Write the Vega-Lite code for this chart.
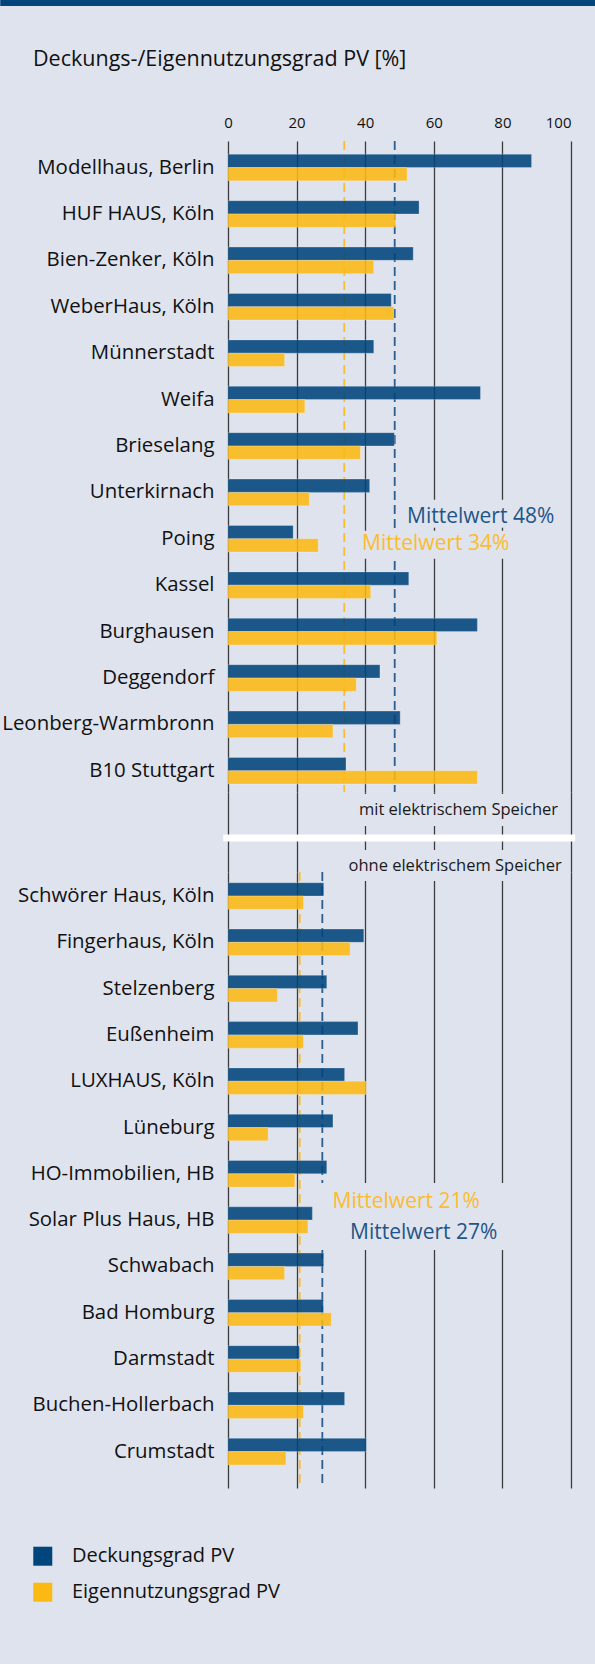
{
  "$schema": "https://vega.github.io/schema/vega-lite/v6.json",
  "autosize": {"type": "pad"},
  "padding": {"left": 0, "top": 0, "right": 0, "bottom": 44},
  "background": "#dfe3ee",
  "datasets": {
    "balken": [
      {"gruppe": "mit", "name": "Modellhaus, Berlin", "typ": "Deckungsgrad PV", "wert": 88.5},
      {"gruppe": "mit", "name": "Modellhaus, Berlin", "typ": "Eigennutzungsgrad PV", "wert": 52.2},
      {"gruppe": "mit", "name": "HUF HAUS, Köln", "typ": "Deckungsgrad PV", "wert": 55.7},
      {"gruppe": "mit", "name": "HUF HAUS, Köln", "typ": "Eigennutzungsgrad PV", "wert": 48.9},
      {"gruppe": "mit", "name": "Bien-Zenker, Köln", "typ": "Deckungsgrad PV", "wert": 54.0},
      {"gruppe": "mit", "name": "Bien-Zenker, Köln", "typ": "Eigennutzungsgrad PV", "wert": 42.5},
      {"gruppe": "mit", "name": "WeberHaus, Köln", "typ": "Deckungsgrad PV", "wert": 47.6},
      {"gruppe": "mit", "name": "WeberHaus, Köln", "typ": "Eigennutzungsgrad PV", "wert": 48.4},
      {"gruppe": "mit", "name": "Münnerstadt", "typ": "Deckungsgrad PV", "wert": 42.5},
      {"gruppe": "mit", "name": "Münnerstadt", "typ": "Eigennutzungsgrad PV", "wert": 16.5},
      {"gruppe": "mit", "name": "Weifa", "typ": "Deckungsgrad PV", "wert": 73.6},
      {"gruppe": "mit", "name": "Weifa", "typ": "Eigennutzungsgrad PV", "wert": 22.4},
      {"gruppe": "mit", "name": "Brieselang", "typ": "Deckungsgrad PV", "wert": 48.5},
      {"gruppe": "mit", "name": "Brieselang", "typ": "Eigennutzungsgrad PV", "wert": 38.6},
      {"gruppe": "mit", "name": "Unterkirnach", "typ": "Deckungsgrad PV", "wert": 41.3},
      {"gruppe": "mit", "name": "Unterkirnach", "typ": "Eigennutzungsgrad PV", "wert": 23.7},
      {"gruppe": "mit", "name": "Poing", "typ": "Deckungsgrad PV", "wert": 19.0},
      {"gruppe": "mit", "name": "Poing", "typ": "Eigennutzungsgrad PV", "wert": 26.3},
      {"gruppe": "mit", "name": "Kassel", "typ": "Deckungsgrad PV", "wert": 52.7},
      {"gruppe": "mit", "name": "Kassel", "typ": "Eigennutzungsgrad PV", "wert": 41.6},
      {"gruppe": "mit", "name": "Burghausen", "typ": "Deckungsgrad PV", "wert": 72.7},
      {"gruppe": "mit", "name": "Burghausen", "typ": "Eigennutzungsgrad PV", "wert": 60.9},
      {"gruppe": "mit", "name": "Deggendorf", "typ": "Deckungsgrad PV", "wert": 44.3},
      {"gruppe": "mit", "name": "Deggendorf", "typ": "Eigennutzungsgrad PV", "wert": 37.4},
      {"gruppe": "mit", "name": "Leonberg-Warmbronn", "typ": "Deckungsgrad PV", "wert": 50.2},
      {"gruppe": "mit", "name": "Leonberg-Warmbronn", "typ": "Eigennutzungsgrad PV", "wert": 30.6},
      {"gruppe": "mit", "name": "B10 Stuttgart", "typ": "Deckungsgrad PV", "wert": 34.4},
      {"gruppe": "mit", "name": "B10 Stuttgart", "typ": "Eigennutzungsgrad PV", "wert": 72.7},
      {"gruppe": "ohne", "name": "Schwörer Haus, Köln", "typ": "Deckungsgrad PV", "wert": 27.9},
      {"gruppe": "ohne", "name": "Schwörer Haus, Köln", "typ": "Eigennutzungsgrad PV", "wert": 22.0},
      {"gruppe": "ohne", "name": "Fingerhaus, Köln", "typ": "Deckungsgrad PV", "wert": 39.6},
      {"gruppe": "ohne", "name": "Fingerhaus, Köln", "typ": "Eigennutzungsgrad PV", "wert": 35.6},
      {"gruppe": "ohne", "name": "Stelzenberg", "typ": "Deckungsgrad PV", "wert": 28.8},
      {"gruppe": "ohne", "name": "Stelzenberg", "typ": "Eigennutzungsgrad PV", "wert": 14.4},
      {"gruppe": "ohne", "name": "Eußenheim", "typ": "Deckungsgrad PV", "wert": 37.9},
      {"gruppe": "ohne", "name": "Eußenheim", "typ": "Eigennutzungsgrad PV", "wert": 22.0},
      {"gruppe": "ohne", "name": "LUXHAUS, Köln", "typ": "Deckungsgrad PV", "wert": 34.0},
      {"gruppe": "ohne", "name": "LUXHAUS, Köln", "typ": "Eigennutzungsgrad PV", "wert": 40.3},
      {"gruppe": "ohne", "name": "Lüneburg", "typ": "Deckungsgrad PV", "wert": 30.6},
      {"gruppe": "ohne", "name": "Lüneburg", "typ": "Eigennutzungsgrad PV", "wert": 11.7},
      {"gruppe": "ohne", "name": "HO-Immobilien, HB", "typ": "Deckungsgrad PV", "wert": 28.8},
      {"gruppe": "ohne", "name": "HO-Immobilien, HB", "typ": "Eigennutzungsgrad PV", "wert": 19.5},
      {"gruppe": "ohne", "name": "Solar Plus Haus, HB", "typ": "Deckungsgrad PV", "wert": 24.6},
      {"gruppe": "ohne", "name": "Solar Plus Haus, HB", "typ": "Eigennutzungsgrad PV", "wert": 23.3},
      {"gruppe": "ohne", "name": "Schwabach", "typ": "Deckungsgrad PV", "wert": 27.9},
      {"gruppe": "ohne", "name": "Schwabach", "typ": "Eigennutzungsgrad PV", "wert": 16.5},
      {"gruppe": "ohne", "name": "Bad Homburg", "typ": "Deckungsgrad PV", "wert": 27.8},
      {"gruppe": "ohne", "name": "Bad Homburg", "typ": "Eigennutzungsgrad PV", "wert": 30.1},
      {"gruppe": "ohne", "name": "Darmstadt", "typ": "Deckungsgrad PV", "wert": 20.8},
      {"gruppe": "ohne", "name": "Darmstadt", "typ": "Eigennutzungsgrad PV", "wert": 21.2},
      {"gruppe": "ohne", "name": "Buchen-Hollerbach", "typ": "Deckungsgrad PV", "wert": 34.0},
      {"gruppe": "ohne", "name": "Buchen-Hollerbach", "typ": "Eigennutzungsgrad PV", "wert": 22.0},
      {"gruppe": "ohne", "name": "Crumstadt", "typ": "Deckungsgrad PV", "wert": 40.3},
      {"gruppe": "ohne", "name": "Crumstadt", "typ": "Eigennutzungsgrad PV", "wert": 16.9}
    ],
    "mittel": [
      {"gruppe": "mit", "typ": "Deckungsgrad PV", "wert": 48.6},
      {"gruppe": "mit", "typ": "Eigennutzungsgrad PV", "wert": 33.9},
      {"gruppe": "ohne", "typ": "Deckungsgrad PV", "wert": 27.5},
      {"gruppe": "ohne", "typ": "Eigennutzungsgrad PV", "wert": 20.9}
    ],
    "legende": [
      {"typ": "Deckungsgrad PV"},
      {"typ": "Eigennutzungsgrad PV"}
    ]
  },
  "spacing": 135,
  "bounds": "flush",
  "vconcat": [
    {
      "width": 343,
      "height": 6,
      "data": {"values": [{}]},
      "mark": {"type": "rect", "color": "#00457c", "clip": false},
      "encoding": {
        "x": {"datum": -66.4, "type": "quantitative", "scale": {"domain": [0, 100], "nice": false, "zero": false}, "axis": null},
        "x2": {"datum": 110}
      }
    },
    {
      "spacing": 0,
      "bounds": "flush",
      "vconcat": [
        {
          "width": 343,
          "height": 651,
          "title": {"text": "Deckungs-/Eigennutzungsgrad PV [%]", "anchor": "start", "frame": "group", "dx": -195, "offset": 45, "fontSize": 21.5, "fontWeight": "normal", "color": "#111111", "font": "Open Sans"},
          "layer": [
            {
              "data": {"name": "mittel"},
              "transform": [{"filter": "datum.gruppe === 'mit'"}],
              "mark": {"type": "rule", "strokeDash": [9, 5], "strokeWidth": 1.8},
              "encoding": {
                "x": {"field": "wert", "type": "quantitative", "scale": {"domain": [0, 100], "nice": false, "zero": true},
                  "axis": {"orient": "top", "values": [0, 20, 40, 60, 80, 100], "grid": true, "ticks": false, "domain": false, "title": null, "labelFontSize": 15, "labelPadding": 11, "labelFlush": false, "labelColor": "#111111",
                    "labelAlign": {"condition": {"test": "datum.value === 100", "value": "right"}, "value": "center"}}},
                "stroke": {"field": "typ", "type": "nominal", "scale": {"domain": ["Deckungsgrad PV", "Eigennutzungsgrad PV"], "range": ["#2a5d90", "#fbbd30"]}, "legend": null}
              }
            },
            {
              "data": {"values": [{}]},
              "mark": {"type": "rule", "color": "#dfe3ee", "strokeWidth": 28},
              "encoding": {
                "x": {"datum": 51.6, "type": "quantitative"},
                "x2": {"datum": 97.4},
                "y": {"datum": "Poing", "type": "nominal", "bandPosition": -0.44}
              }
            },
            {
              "data": {"values": [{}]},
              "mark": {"type": "rule", "color": "#dfe3ee", "strokeWidth": 28},
              "encoding": {
                "x": {"datum": 38.0, "type": "quantitative"},
                "x2": {"datum": 85.1},
                "y": {"datum": "Poing", "type": "nominal", "bandPosition": 0.726}
              }
            },
            {
              "data": {"name": "balken"},
              "transform": [{"filter": "datum.gruppe === 'mit'"}],
              "mark": {"type": "bar", "opacity": 0.88, "stroke": "#ffffff", "strokeOpacity": 0.25, "strokeWidth": 1},
              "encoding": {
                "y": {"field": "name", "type": "nominal",
                  "scale": {"domain": ["Modellhaus, Berlin", "HUF HAUS, Köln", "Bien-Zenker, Köln", "WeberHaus, Köln", "Münnerstadt", "Weifa", "Brieselang", "Unterkirnach", "Poing", "Kassel", "Burghausen", "Deggendorf", "Leonberg-Warmbronn", "B10 Stuttgart"], "paddingInner": 0.4267, "paddingOuter": 0.228, "align": 0.627, "round": false},
                  "axis": {"title": null, "ticks": false, "domain": false, "labelFontSize": 20.4, "labelPadding": 14, "labelLimit": 400, "labelColor": "#111111"}},
                "yOffset": {"field": "typ", "type": "nominal", "scale": {"domain": ["Deckungsgrad PV", "Eigennutzungsgrad PV"], "paddingInner": 0, "paddingOuter": 0}},
                "x": {"field": "wert", "type": "quantitative"},
                "color": {"field": "typ", "type": "nominal", "scale": {"domain": ["Deckungsgrad PV", "Eigennutzungsgrad PV"], "range": ["#00457c", "#fdb913"]}, "legend": null}
              }
            },
            {
              "data": {"values": [{}]},
              "mark": {"type": "text", "text": "Mittelwert 48%", "align": "left", "baseline": "middle", "fontSize": 21, "color": "#1f5587"},
              "encoding": {
                "x": {"datum": 52.2, "type": "quantitative"},
                "y": {"datum": "Poing", "type": "nominal", "bandPosition": -0.327}
              }
            },
            {
              "data": {"values": [{}]},
              "mark": {"type": "text", "text": "Mittelwert 34%", "align": "left", "baseline": "middle", "fontSize": 21, "color": "#fbbc2e"},
              "encoding": {
                "x": {"datum": 39.1, "type": "quantitative"},
                "y": {"datum": "Poing", "type": "nominal", "bandPosition": 0.70}
              }
            }
          ]
        },
        {
          "width": 343,
          "height": 80,
          "layer": [
            {
              "data": {"values": [{}]},
              "mark": {"type": "rule", "color": "#dfe3ee", "strokeWidth": 32},
              "encoding": {
                "x": {"datum": 37.7, "type": "quantitative", "scale": {"domain": [0, 100], "nice": false, "zero": true},
                  "axis": {"orient": "top", "values": [0, 20, 40, 60, 80, 100], "grid": true, "labels": false, "ticks": false, "domain": false, "title": null}},
                "x2": {"datum": 97.7},
                "y": {"datum": "mit", "type": "nominal", "scale": {"type": "point", "domain": ["mit", "trenn"], "padding": 0.929, "align": 0.346}, "axis": null}
              }
            },
            {
              "data": {"values": [{}]},
              "mark": {"type": "rule", "color": "#ffffff", "strokeWidth": 7},
              "encoding": {
                "x": {"datum": -1.37, "type": "quantitative"},
                "x2": {"datum": 101.2},
                "y": {"datum": "trenn", "type": "nominal"}
              }
            },
            {
              "data": {"values": [{}]},
              "mark": {"type": "text", "text": "mit elektrischem Speicher", "align": "center", "baseline": "middle", "fontSize": 16.5, "color": "#1a1a1a"},
              "encoding": {
                "x": {"datum": 67.2, "type": "quantitative"},
                "y": {"datum": "mit", "type": "nominal"}
              }
            }
          ]
        },
        {
          "width": 343,
          "height": 616,
          "layer": [
            {
              "data": {"name": "mittel"},
              "transform": [{"filter": "datum.gruppe === 'ohne'"}],
              "mark": {"type": "rule", "strokeDash": [9, 5], "strokeWidth": 1.8},
              "encoding": {
                "x": {"field": "wert", "type": "quantitative", "scale": {"domain": [0, 100], "nice": false, "zero": true},
                  "axis": {"orient": "top", "values": [0, 20, 40, 60, 80, 100], "grid": true, "labels": false, "ticks": false, "domain": false, "title": null}},
                "stroke": {"field": "typ", "type": "nominal", "scale": {"domain": ["Deckungsgrad PV", "Eigennutzungsgrad PV"], "range": ["#2a5d90", "#fbbd30"]}, "legend": null}
              }
            },
            {
              "data": {"values": [{}]},
              "mark": {"type": "rule", "color": "#dfe3ee", "strokeWidth": 31},
              "encoding": {
                "x": {"datum": 34.2, "type": "quantitative"},
                "x2": {"datum": 98.2},
                "y": {"datum": "Schwörer Haus, Köln", "type": "nominal", "bandPosition": -0.647}
              }
            },
            {
              "data": {"values": [{}]},
              "mark": {"type": "rule", "color": "#dfe3ee", "strokeWidth": 67},
              "encoding": {
                "x": {"datum": 27.0, "type": "quantitative"},
                "x2": {"datum": 86.0},
                "y": {"datum": "Solar Plus Haus, HB", "type": "nominal", "bandPosition": 0.368}
              }
            },
            {
              "data": {"name": "balken"},
              "transform": [{"filter": "datum.gruppe === 'ohne'"}],
              "mark": {"type": "bar", "opacity": 0.88, "stroke": "#ffffff", "strokeOpacity": 0.25, "strokeWidth": 1},
              "encoding": {
                "y": {"field": "name", "type": "nominal",
                  "scale": {"domain": ["Schwörer Haus, Köln", "Fingerhaus, Köln", "Stelzenberg", "Eußenheim", "LUXHAUS, Köln", "Lüneburg", "HO-Immobilien, HB", "Solar Plus Haus, HB", "Schwabach", "Bad Homburg", "Darmstadt", "Buchen-Hollerbach", "Crumstadt"], "paddingInner": 0.4255, "paddingOuter": 0.365, "align": 0.317, "round": false},
                  "axis": {"title": null, "ticks": false, "domain": false, "labelFontSize": 20.4, "labelPadding": 14, "labelLimit": 400, "labelColor": "#111111"}},
                "yOffset": {"field": "typ", "type": "nominal", "scale": {"domain": ["Deckungsgrad PV", "Eigennutzungsgrad PV"], "paddingInner": 0, "paddingOuter": 0}},
                "x": {"field": "wert", "type": "quantitative"},
                "color": {"field": "typ", "type": "nominal", "scale": {"domain": ["Deckungsgrad PV", "Eigennutzungsgrad PV"], "range": ["#00457c", "#fdb913"]}, "legend": null}
              }
            },
            {
              "data": {"values": [{}]},
              "mark": {"type": "text", "text": "ohne elektrischem Speicher", "align": "center", "baseline": "middle", "fontSize": 16.5, "color": "#1a1a1a"},
              "encoding": {
                "x": {"datum": 66.2, "type": "quantitative"},
                "y": {"datum": "Schwörer Haus, Köln", "type": "nominal", "bandPosition": -0.628}
              }
            },
            {
              "data": {"values": [{}]},
              "mark": {"type": "text", "text": "Mittelwert 21%", "align": "left", "baseline": "middle", "fontSize": 21, "color": "#fbbc2e"},
              "encoding": {
                "x": {"datum": 30.5, "type": "quantitative"},
                "y": {"datum": "Solar Plus Haus, HB", "type": "nominal", "bandPosition": -0.19}
              }
            },
            {
              "data": {"values": [{}]},
              "mark": {"type": "text", "text": "Mittelwert 27%", "align": "left", "baseline": "middle", "fontSize": 21, "color": "#1f5587"},
              "encoding": {
                "x": {"datum": 35.6, "type": "quantitative"},
                "y": {"datum": "Solar Plus Haus, HB", "type": "nominal", "bandPosition": 0.977}
              }
            }
          ]
        },
        {
          "width": 343,
          "height": 132,
          "data": {"name": "legende"},
          "layer": [
            {
              "mark": {"type": "point", "shape": "square", "filled": true, "size": 361, "opacity": 1, "strokeWidth": 0, "clip": false},
              "encoding": {
                "x": {"datum": -54, "type": "quantitative", "scale": {"domain": [0, 100], "nice": false, "zero": true}, "axis": null},
                "y": {"field": "typ", "type": "nominal", "scale": {"type": "band", "domain": ["Deckungsgrad PV", "Eigennutzungsgrad PV"], "paddingInner": 0, "paddingOuter": 0.833, "align": 0.837, "round": false}, "axis": null},
                "color": {"field": "typ", "type": "nominal", "scale": {"domain": ["Deckungsgrad PV", "Eigennutzungsgrad PV"], "range": ["#00457c", "#fdb913"]}, "legend": null}
              }
            },
            {
              "mark": {"type": "text", "align": "left", "baseline": "middle", "fontSize": 20, "color": "#111111", "clip": false},
              "encoding": {
                "x": {"datum": -45.5, "type": "quantitative"},
                "y": {"field": "typ", "type": "nominal"},
                "text": {"field": "typ", "type": "nominal"}
              }
            }
          ]
        }
      ]
    }
  ],
  "config": {
    "font": "Open Sans",
    "view": {"stroke": null},
    "axis": {"gridColor": "#3c3c3c", "gridWidth": 1.3, "gridOpacity": 1, "labelFont": "Open Sans"},
    "text": {"font": "Open Sans"}
  }
}
